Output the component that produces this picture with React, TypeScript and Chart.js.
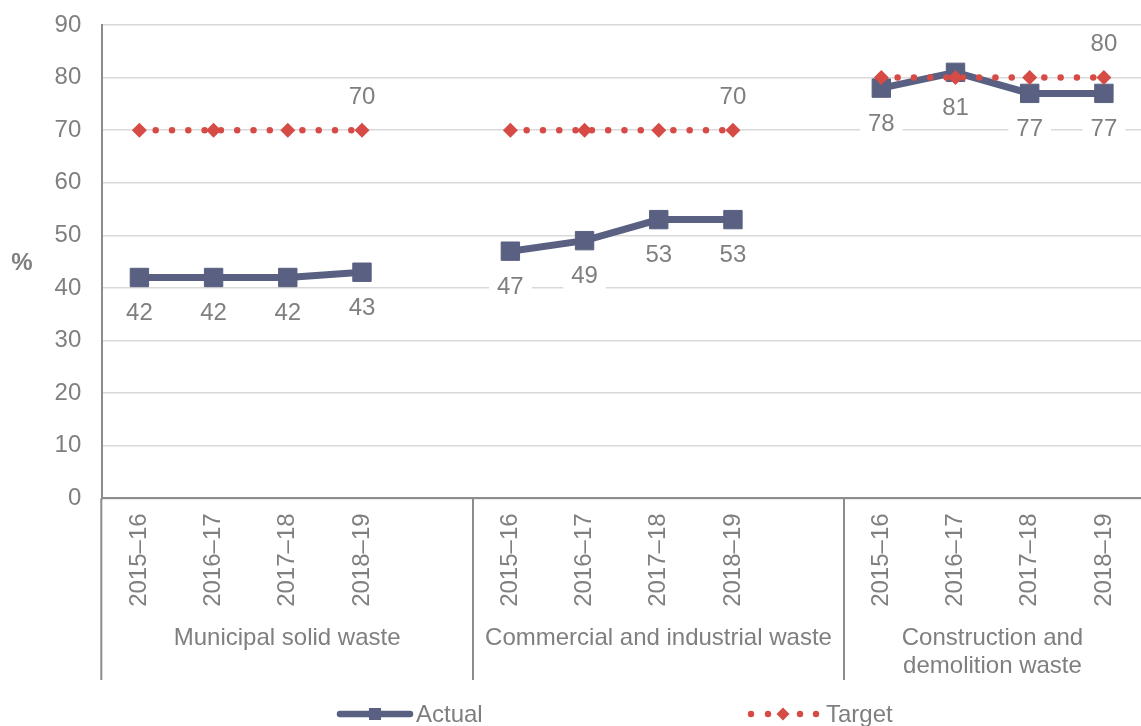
import { useEffect, useRef } from 'react';
import { Chart, registerables } from 'chart.js';

Chart.register(...registerables);

// Financial years shown for every waste stream
const YEARS = ['2015–16', '2016–17', '2017–18', '2018–19'];
// Waste streams (multi-line names are split into rows)
const GROUPS = [
  ['Municipal solid waste'],
  ['Commercial and industrial waste'],
  ['Construction and', 'demolition waste'],
];
// Resource recovery rate, %
const ACTUAL_MSW = [42, 42, 42, 43];
const ACTUAL_CI = [47, 49, 53, 53];
const ACTUAL_CD = [78, 81, 77, 77];
const TARGET_MSW = [70, 70, 70, 70];
const TARGET_CI = [70, 70, 70, 70];
const TARGET_CD = [80, 80, 80, 80];
const Y_MIN = 0;
const Y_MAX = 90;
const Y_STEP = 10;

const ACTUAL_COLOR = '#596081';
const TARGET_COLOR = '#d64b45';
const TEXT_COLOR = '#7f7f7f';
const AXIS_COLOR = '#8c8c8c';
const GRID_COLOR = '#d9d9d9';
const FONT = "'Liberation Sans', Arial, sans-serif";

const WIDTH = 1141;
const HEIGHT = 726;

// One category axis; an empty slot separates the waste streams
const actualGroups = [ACTUAL_MSW, ACTUAL_CI, ACTUAL_CD];
const targetGroups = [TARGET_MSW, TARGET_CI, TARGET_CD];
const labels: string[] = [];
const actualData: (number | null)[] = [];
const targetData: (number | null)[] = [];
const groupStart: number[] = [];
GROUPS.forEach((_, g) => {
  if (g > 0) {
    labels.push('');
    actualData.push(null);
    targetData.push(null);
  }
  groupStart.push(labels.length);
  YEARS.forEach((yr, i) => {
    labels.push(yr);
    actualData.push(actualGroups[g][i]);
    targetData.push(targetGroups[g][i]);
  });
});

const decorations = {
  id: 'decorations',
  afterDatasetsDraw(chart: any) {
    const ctx = chart.ctx as CanvasRenderingContext2D;
    ctx.save();
    ctx.font = `24px ${FONT}`;
    ctx.textAlign = 'center';
    ctx.textBaseline = 'middle';
    const tag = (text: string, x: number, y: number) => {
      const w = ctx.measureText(text).width + 16;
      ctx.fillStyle = '#ffffff';
      ctx.fillRect(x - w / 2, y - 14, w, 28);
      ctx.fillStyle = TEXT_COLOR;
      ctx.fillText(text, x, y + 1);
    };
    // Actual values below each point
    const actualMeta = chart.getDatasetMeta(0);
    actualMeta.data.forEach((pt: any, i: number) => {
      const v = actualData[i];
      if (v == null) return;
      tag(String(v), pt.x, pt.y + 35);
    });
    // Target value above the last point of each stream
    const targetMeta = chart.getDatasetMeta(1);
    groupStart.forEach((s) => {
      const i = s + YEARS.length - 1;
      const pt = targetMeta.data[i];
      tag(String(targetData[i]), pt.x, pt.y - 34);
    });
    ctx.restore();
  },
  afterDraw(chart: any) {
    const ctx = chart.ctx as CanvasRenderingContext2D;
    const xs = chart.scales.x;
    const area = chart.chartArea;
    ctx.save();

    // Axis extension and stream separators below the plot
    const sepBottom = 680;
    const seps = [area.left - 1];
    groupStart.slice(1).forEach((s) => {
      seps.push(Math.round((xs.getPixelForTick(s - 1) + xs.getPixelForTick(s)) / 2));
    });
    ctx.strokeStyle = AXIS_COLOR;
    ctx.lineWidth = 2;
    seps.forEach((x) => {
      ctx.beginPath();
      ctx.moveTo(x, area.bottom);
      ctx.lineTo(x, sepBottom);
      ctx.stroke();
    });

    // Stream names centred within their separated spans
    const edges = [...seps, area.right];
    ctx.font = `24px ${FONT}`;
    ctx.fillStyle = TEXT_COLOR;
    ctx.textAlign = 'center';
    ctx.textBaseline = 'middle';
    GROUPS.forEach((rows, g) => {
      const cx = (edges[g] + edges[g + 1]) / 2;
      rows.forEach((row, r) => ctx.fillText(row, cx, 638 + r * 28));
    });

    // Axis unit
    ctx.font = `bold 24px ${FONT}`;
    ctx.fillText('%', 22, 263);

    // Legend
    const ly = 714;
    ctx.strokeStyle = ACTUAL_COLOR;
    ctx.lineWidth = 6.5;
    ctx.lineCap = 'round';
    ctx.beginPath();
    ctx.moveTo(340, ly);
    ctx.lineTo(410, ly);
    ctx.stroke();
    ctx.fillStyle = ACTUAL_COLOR;
    ctx.fillRect(375 - 6, ly - 6, 12, 12);

    ctx.fillStyle = TARGET_COLOR;
    [751, 768, 800, 816].forEach((x) => {
      ctx.beginPath();
      ctx.arc(x, ly, 3.2, 0, Math.PI * 2);
      ctx.fill();
    });
    ctx.beginPath();
    ctx.moveTo(783, ly - 6.5);
    ctx.lineTo(789.5, ly);
    ctx.lineTo(783, ly + 6.5);
    ctx.lineTo(776.5, ly);
    ctx.closePath();
    ctx.fill();

    ctx.font = `24px ${FONT}`;
    ctx.fillStyle = TEXT_COLOR;
    ctx.textAlign = 'left';
    ctx.fillText('Actual', 416, ly + 1);
    ctx.fillText('Target', 826, ly + 1);

    ctx.restore();
  },
};

export default function App() {
  const canvasRef = useRef<HTMLCanvasElement | null>(null);

  useEffect(() => {
    if (!canvasRef.current) return;
    const chart = new Chart(canvasRef.current, {
      type: 'line',
      data: {
        labels,
        datasets: [
          {
            label: 'Actual',
            data: actualData,
            order: 1,
            borderColor: ACTUAL_COLOR,
            backgroundColor: ACTUAL_COLOR,
            borderWidth: 7,
            pointStyle: 'rect',
            pointRadius: 13,
            pointBorderWidth: 1,
            pointBorderColor: ACTUAL_COLOR,
            pointBackgroundColor: ACTUAL_COLOR,
            spanGaps: false,
            tension: 0,
          },
          {
            label: 'Target',
            data: targetData,
            order: 0,
            borderColor: TARGET_COLOR,
            backgroundColor: TARGET_COLOR,
            borderWidth: 6.5,
            borderDash: [0.001, 16.3],
            borderCapStyle: 'round',
            pointStyle: 'rectRot',
            pointRadius: 7.5,
            pointBorderWidth: 0,
            pointBackgroundColor: TARGET_COLOR,
            spanGaps: false,
            tension: 0,
          },
        ],
      },
      options: {
        responsive: false,
        animation: false,
        layout: { autoPadding: false, padding: { top: 25, left: 0, right: 0, bottom: 0 } },
        plugins: {
          legend: { display: false },
          tooltip: { enabled: false },
        },
        scales: {
          x: {
            type: 'category',
            offset: true,
            grid: { display: false, drawTicks: false },
            border: { display: true, color: AXIS_COLOR, width: 2 },
            ticks: {
              color: TEXT_COLOR,
              font: { family: FONT, size: 24 },
              minRotation: 90,
              maxRotation: 90,
              autoSkip: false,
              padding: 15,
            },
            afterFit: (scale: any) => {
              scale.height = HEIGHT - 498.4;
              scale.paddingLeft = 0;
              scale.paddingRight = 0;
            },
          },
          y: {
            min: Y_MIN,
            max: Y_MAX,
            grid: { color: GRID_COLOR, lineWidth: 1.5, drawTicks: false },
            border: { display: true, color: AXIS_COLOR, width: 2 },
            ticks: {
              stepSize: Y_STEP,
              color: TEXT_COLOR,
              font: { family: FONT, size: 24 },
              padding: 21,
            },
            afterFit: (scale: any) => {
              scale.width = 102.3;
              scale.paddingTop = 0;
              scale.paddingBottom = 0;
            },
          },
        },
      },
      plugins: [decorations],
    } as any);
    return () => chart.destroy();
  }, []);

  return (
    <div style={{ position: 'fixed', left: 0, top: 0, width: WIDTH, height: HEIGHT, background: '#ffffff' }}>
      <canvas ref={canvasRef} width={WIDTH} height={HEIGHT} />
    </div>
  );
}
